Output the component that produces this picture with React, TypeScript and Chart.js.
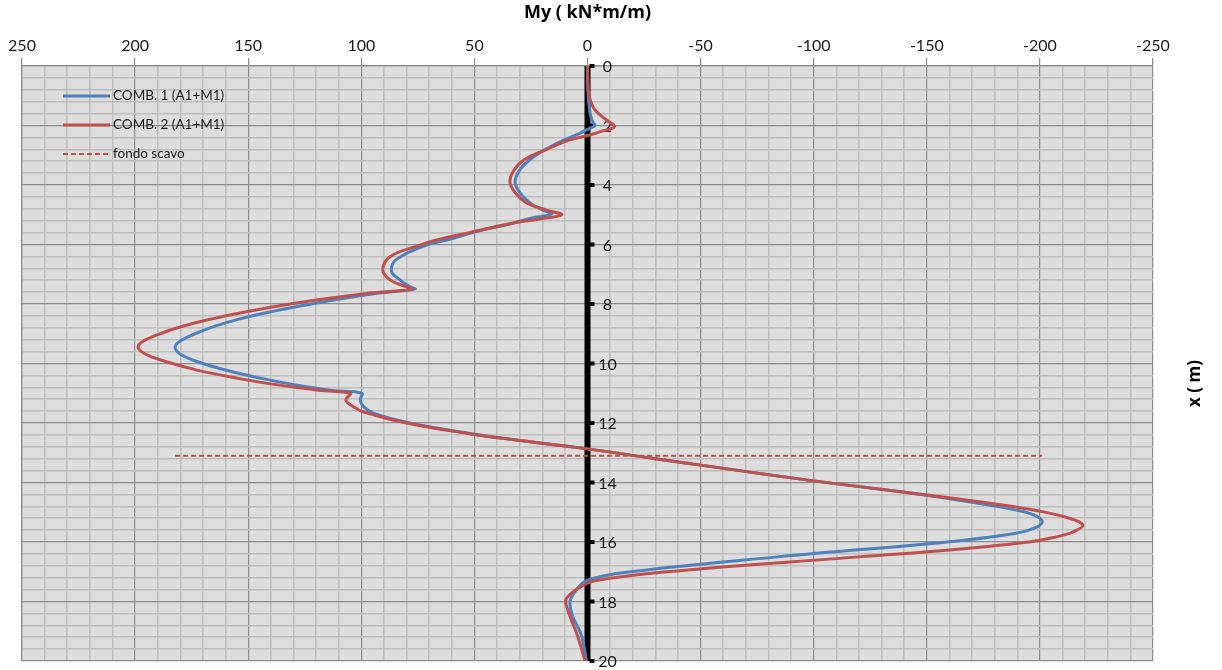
import React, { useEffect, useRef } from 'react';
import { Chart, registerables } from 'chart.js';

Chart.register(...registerables);

// Bending moment My (kN*m/m) along the wall, depth x (m) measured downwards.
const comb1Depth = [
  0, 0.5, 1.0, 1.4, 1.7, 1.9, 2.0, 2.08, 2.15, 2.3, 2.5, 2.8, 3.15, 3.5, 3.9, 4.25, 4.6, 4.85, 4.97,
  5.1, 5.3, 5.57, 5.85, 6.0, 6.5, 6.91, 7.19, 7.4, 7.5, 7.64, 8.0, 8.5, 9.0, 9.45, 9.9, 10.5, 10.9,
  11.0, 11.23, 11.45, 11.67, 12.0, 12.35, 12.63, 12.87, 13.2, 13.5, 13.92, 14.42, 14.69, 14.92,
  15.1, 15.32, 15.55, 15.75, 16.0, 16.5, 17.0, 17.28, 17.6, 18.0, 18.5, 19.07, 19.5, 20.0,
];
const comb1My = [
  0, 0, -0.3, -0.8, -1.5, -2.5, -3.3, -1.5, 0.5, 4.5, 10.8, 18.5, 25.5, 30, 32, 30, 25.4, 19.5, 15.8,
  24, 34, 49.5, 62, 70.5, 84.4, 86.6, 82.9, 79, 76.3, 93, 122, 153.6, 173.5, 182.3, 174, 144, 114,
  99.8, 100.5, 99, 94.7, 78.5, 52, 25.4, 0, -30, -58, -97.5, -149, -172, -189,
  -197.5, -201, -197, -186, -159, -84, -19, 0, 4.8, 7.7, 6.5, 3, 1.6, 0.5,
];

const comb2Depth = [
  0, 0.5, 0.92, 1.2, 1.48, 1.82, 2.04, 2.2, 2.32, 2.5, 2.8, 3.15, 3.5, 3.9, 4.25, 4.6, 4.85, 5.0,
  5.15, 5.3, 5.57, 5.85, 6.02, 6.41, 6.86, 7.19, 7.4, 7.5, 7.64, 8.0, 8.5, 9.0, 9.45, 9.9, 10.5, 10.9,
  11.0, 11.23, 11.45, 11.62, 12.0, 12.35, 12.63, 12.87, 13.2, 13.5, 13.92, 14.42, 14.7, 14.95,
  15.2, 15.43, 15.65, 15.85, 16.0, 16.27, 16.5, 17.0, 17.3, 17.5, 17.9, 18.2, 19.07, 19.5, 20.0,
];
const comb2My = [
  0, -0.2, -0.5, -1.5, -3.3, -8.5, -12, -6, -1, 8.5, 18, 28, 32.5, 34.3, 32, 26.9, 18, 11.4,
  22, 34.3, 50.5, 66.7, 74, 87.3, 90.5, 87.3, 81, 77.7, 97, 131.5, 166, 189, 198.7, 188, 154.5, 119,
  105, 106.8, 103.5, 99.3, 80, 53, 25.4, 0, -30, -58, -97.5, -150, -178, -199,
  -213, -219, -215, -206, -195, -160, -120, -35, -3.3, 2.9, 9.3, 9.1, 4.8, 3, 1.1,
];

// Excavation bottom level and its horizontal extent
const fondoScavoDepth = 13.1;
const fondoScavoMy = [182.3, -201];

const momentTicks = [250, 200, 150, 100, 50, 0, -50, -100, -150, -200, -250];
const depthTicks = [0, 2, 4, 6, 8, 10, 12, 14, 16, 18, 20];

const seriesLabels = ['COMB. 1 (A1+M1)', 'COMB. 2 (A1+M1)', 'fondo scavo'];

const BLUE = '#4F81BD';
const RED = '#C0504D';
const MAJOR_GRID = '#8c8c8c';
const MINOR_GRID = '#bebebe';
const TEXT = '#1a1a1a';
const FONT = 'Lato, "Open Sans", sans-serif';
const TITLE_FONT = '"Open Sans", Lato, sans-serif';

const isMajorX = (v: number) => momentTicks.some((t) => Math.abs(t - v) < 1e-6);
const isMajorY = (v: number) => depthTicks.some((t) => Math.abs(t - v) < 1e-6);

const plotBackground = {
  id: 'plotBackground',
  beforeDraw(chart: any) {
    const { ctx, chartArea: a } = chart;
    ctx.save();
    ctx.fillStyle = '#dddddd';
    ctx.fillRect(a.left, a.top, a.right - a.left, a.bottom - a.top);
    ctx.restore();
  },
};

// Thick vertical axis at My = 0 with its depth labels
const zeroAxis = {
  id: 'zeroAxis',
  beforeDatasetsDraw(chart: any) {
    const { ctx } = chart;
    const xs = chart.scales.x;
    const ys = chart.scales.y;
    const x0 = xs.getPixelForValue(0);
    const yTop = ys.getPixelForValue(depthTicks[0]);
    const yBot = ys.getPixelForValue(depthTicks[depthTicks.length - 1]);
    ctx.save();
    ctx.fillStyle = '#000';
    ctx.fillRect(x0 - 3, yTop, 6, yBot - yTop);
    ctx.font = `16px ${FONT}`;
    ctx.textAlign = 'center';
    ctx.textBaseline = 'middle';
    depthTicks.forEach((d) => {
      const py = ys.getPixelForValue(d);
      ctx.fillStyle = '#000';
      ctx.fillRect(x0 + 2, py - 2, 5, 4);
      ctx.fillStyle = TEXT;
      ctx.fillText(String(d), x0 + 20, py + 1);
    });
    ctx.restore();
  },
};

const insideLegend = {
  id: 'insideLegend',
  afterDatasetsDraw(chart: any) {
    const { ctx, chartArea: a } = chart;
    ctx.save();
    chart.data.datasets.forEach((ds: any, i: number) => {
      const yy = a.top + 30 + i * 29;
      ctx.strokeStyle = ds.borderColor;
      ctx.lineWidth = ds.borderWidth;
      ctx.setLineDash(ds.borderDash || []);
      ctx.beginPath();
      ctx.moveTo(a.left + 41, yy);
      ctx.lineTo(a.left + 88, yy);
      ctx.stroke();
      ctx.setLineDash([]);
      ctx.fillStyle = TEXT;
      ctx.font = `13.5px ${FONT}`;
      ctx.textAlign = 'left';
      ctx.textBaseline = 'middle';
      ctx.fillText(ds.label, a.left + 91, yy);
    });
    ctx.restore();
  },
};

const depthTitle = {
  id: 'depthTitle',
  afterDraw(chart: any) {
    const { ctx, chartArea: a } = chart;
    ctx.save();
    ctx.translate(a.right + 42, (a.top + a.bottom) / 2 + 20);
    ctx.rotate(-Math.PI / 2);
    ctx.font = `bold 17px ${TITLE_FONT}`;
    ctx.fillStyle = '#000';
    ctx.textAlign = 'center';
    ctx.textBaseline = 'middle';
    ctx.fillText('x ( m)', 0, 0);
    ctx.restore();
  },
};

export default function App() {
  const canvasRef = useRef<HTMLCanvasElement | null>(null);

  useEffect(() => {
    document.body.style.margin = '0';
    const canvas = canvasRef.current;
    if (!canvas) return;

    const chart = new Chart(canvas, {
      type: 'scatter',
      data: {
        datasets: [
          {
            label: seriesLabels[0],
            data: comb1Depth.map((d, i) => ({ x: comb1My[i], y: d })),
            showLine: true,
            borderColor: BLUE,
            backgroundColor: BLUE,
            borderWidth: 3,
            pointRadius: 0,
            tension: 0.4,
            order: 1,
          },
          {
            label: seriesLabels[1],
            data: comb2Depth.map((d, i) => ({ x: comb2My[i], y: d })),
            showLine: true,
            borderColor: RED,
            backgroundColor: RED,
            borderWidth: 3,
            pointRadius: 0,
            tension: 0.4,
            order: 0,
          },
          {
            label: seriesLabels[2],
            data: fondoScavoMy.map((m) => ({ x: m, y: fondoScavoDepth })),
            showLine: true,
            borderColor: RED,
            backgroundColor: RED,
            borderWidth: 2,
            borderDash: [5, 3],
            pointRadius: 0,
            order: 2,
          },
        ],
      },
      options: {
        responsive: false,
        animation: false,
        devicePixelRatio: 1,
        layout: { padding: { left: 22, right: 69, top: 0, bottom: 9 } },
        plugins: {
          legend: { display: false },
          tooltip: { enabled: false },
        },
        scales: {
          x: {
            type: 'linear',
            position: 'top',
            reverse: true,
            min: -250,
            max: 250,
            afterFit(scale: any) {
              scale.height = 66;
            },
            title: {
              display: true,
              text: 'My ( kN*m/m)',
              color: '#000',
              font: { family: TITLE_FONT, size: 18, weight: 'bold' },
              padding: { top: 2, bottom: 0 },
            },
            ticks: {
              stepSize: 10,
              autoSkip: false,
              maxRotation: 0,
              padding: 3,
              color: TEXT,
              font: { family: FONT, size: 16 },
              callback: (v: any) => (isMajorX(Number(v)) ? String(v) : ''),
            },
            grid: {
              color: (c: any) => (isMajorX(c.tick?.value ?? 0) ? MAJOR_GRID : MINOR_GRID),
              lineWidth: (c: any) => (isMajorX(c.tick?.value ?? 0) ? 1.2 : 1.5),
              tickLength: 8,
              tickColor: (c: any) => (isMajorX(c.tick?.value ?? 0) ? MAJOR_GRID : 'rgba(0,0,0,0)'),
            },
            border: { display: true, color: MAJOR_GRID, width: 1.2 },
          },
          y: {
            type: 'linear',
            position: 'left',
            reverse: true,
            min: 0,
            max: 20,
            afterFit(scale: any) {
              scale.width = 0;
            },
            ticks: { display: false, stepSize: 0.4 },
            grid: {
              color: (c: any) => (isMajorY(c.tick?.value ?? 0) ? MAJOR_GRID : MINOR_GRID),
              lineWidth: (c: any) => (isMajorY(c.tick?.value ?? 0) ? 1.2 : 1.5),
              drawTicks: false,
            },
            border: { display: true, color: MAJOR_GRID, width: 1.2 },
          },
        },
      } as any,
      plugins: [plotBackground, zeroAxis, insideLegend, depthTitle],
    });

    return () => chart.destroy();
  }, []);

  return (
    <div style={{ width: 1222, height: 670, background: '#fff' }}>
      <canvas ref={canvasRef} width={1222} height={670} />
    </div>
  );
}
